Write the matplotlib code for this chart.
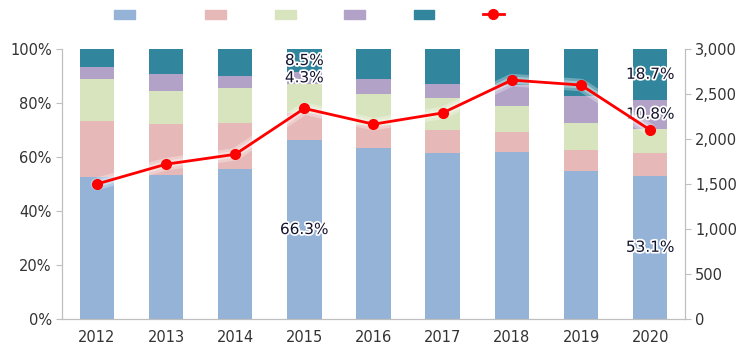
import matplotlib.pyplot as plt
import matplotlib.patheffects as pe
from matplotlib.patches import Patch
from matplotlib.lines import Line2D
import numpy as np

years = ['2012', '2013', '2014', '2015', '2016', '2017', '2018', '2019', '2020']
# stacked shares (%), bottom to top
s1 = [52.6, 53.3, 55.6, 66.3, 63.3, 61.5, 61.9, 54.8, 53.1]
s2 = [20.7, 18.9, 17.0, 10.0, 8.6, 8.5, 7.4, 7.8, 8.4]
s3 = [15.6, 12.2, 13.0, 10.9, 11.4, 11.9, 9.6, 10.0, 9.0]
s4 = [4.4, 6.3, 4.4, 4.3, 5.6, 5.1, 7.8, 10.0, 10.8]
s5 = [6.7, 9.3, 10.0, 8.5, 11.1, 13.0, 13.3, 17.4, 18.7]
total = [1500, 1720, 1830, 2340, 2165, 2290, 2655, 2600, 2100]

colors = ['#95B3D7', '#E6B9B8', '#D7E4BD', '#B3A2C7', '#31859C']
grey = '#333333'

fig = plt.figure(figsize=(7.5, 3.58), dpi=100)
ax = fig.add_axes([0.083, 0.109, 0.83, 0.754])
x = np.arange(len(years))

bottom = np.zeros(len(years))
for vals, c in zip([s1, s2, s3, s4, s5], colors):
    ax.bar(x, vals, 0.5, bottom=bottom, color=c, zorder=2)
    bottom += np.array(vals)

ax.set_xlim(-0.5, len(years) - 0.5)
ax.set_ylim(0, 100)
ax.set_yticks(range(0, 101, 20))
ax.set_yticklabels([f'{v}%' for v in range(0, 101, 20)])
ax.set_xticks(x)
ax.set_xticklabels(years)

ax2 = ax.twinx()
# soft glow under the line
ax2.plot(x, total, color='white', lw=9, alpha=0.3, zorder=4, solid_capstyle='round')
ax2.plot(x, total, color='white', lw=5, alpha=0.35, zorder=4, solid_capstyle='round')
ax2.plot(x, total, color='#FF0000', lw=2, marker='o', ms=7, zorder=5)
ax2.set_ylim(0, 3000)
ax2.set_yticks(range(0, 3001, 500))
ax2.set_yticklabels([f'{v:,}' for v in range(0, 3001, 500)])

for a in (ax, ax2):
    a.spines['top'].set_visible(False)
    for s in ['left', 'right', 'bottom']:
        a.spines[s].set_color('#BFBFBF')
    a.tick_params(colors='#BFBFBF', labelcolor=grey, labelsize=10.5, length=4)
ax.tick_params(axis='x', length=0, pad=8)

# data labels
lab = dict(ha='center', va='center', fontsize=11, color='#141430',
           path_effects=[pe.withStroke(linewidth=2.5, foreground='white')], zorder=10)
cum = np.cumsum([s1, s2, s3, s4, s5], axis=0)
for i in [3, 8]:
    ax.text(x[i], s1[i] / 2, f'{s1[i]:.1f}%', **lab)
    ax.text(x[i], cum[2][i] + s4[i] / 2, f'{s4[i]:.1f}%', **lab)
    ax.text(x[i], cum[3][i] + s5[i] / 2, f'{s5[i]:.1f}%', **lab)

handles = [Patch(color=c) for c in colors]
handles.append(Line2D([], [], color='#FF0000', lw=2, marker='o', ms=7))
labels = ['     ', '', '', '', '', '']
fig.legend(handles, labels, loc='center left', bbox_to_anchor=(107 / 750, 0.958),
           ncol=6, frameon=False, handlelength=1.5, handleheight=0.6,
           handletextpad=0, columnspacing=3.5, borderpad=0, fontsize=10)

fig.savefig('out.png', dpi=100)
